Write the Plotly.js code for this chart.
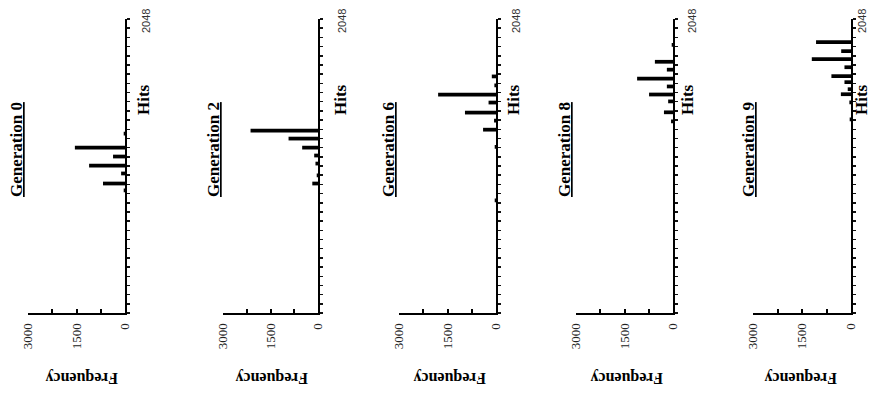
<!DOCTYPE html>
<html>
<head>
<meta charset="utf-8">
<script src="https://cdn.plot.ly/plotly-3.0.1.min.js"></script>
<style>
  html, body { margin: 0; padding: 0; background: #fff; }
  #chart { width: 870px; height: 394px; }
</style>
</head>
<body>
<div id="chart"></div>
<script>
// ---- Data ----
const panelTitles = ['Generation 0', 'Generation 2', 'Generation 6', 'Generation 8', 'Generation 9'];

const hitsGen0 = [854, 902, 972, 1027, 1090, 1152, 1250];
const freqGen0 = [40, 680, 120, 1110, 370, 1550, 40];

const hitsGen2 = [902, 958, 1041, 1097, 1152, 1215, 1270];
const freqGen2 = [180, 40, 80, 120, 500, 930, 2130];

const hitsGen6 = [785, 1157, 1277, 1340, 1396, 1466, 1522, 1585, 1648];
const freqGen6 = [40, 40, 400, 60, 960, 230, 1790, 50, 130];

const hitsGen8 = [1335, 1398, 1474, 1522, 1578, 1633, 1695, 1750, 1868];
const freqGen8 = [60, 280, 150, 740, 190, 1110, 190, 560, 40];

const hitsGen9 = [1349, 1468, 1524, 1559, 1608, 1650, 1712, 1768, 1824, 1887];
const freqGen9 = [40, 50, 310, 100, 200, 600, 200, 1200, 300, 1070];

const freqTickVals = [0, 750, 1500, 2250, 3000];
const freqTickText = ['0', '', '1500', '', '3000'];
const freqMax = 3000;
const hitsMax = 2048;
const hitsStep = 64;
const hitsEndLabel = '2048';
const hitsLabel = 'Hits';
const freqLabel = 'Frequency';

const hitsSeries = [hitsGen0, hitsGen2, hitsGen6, hitsGen8, hitsGen9];
const freqSeries = [freqGen0, freqGen2, freqGen6, freqGen8, freqGen9];

// ---- Layout geometry (pixels in an 870x394 page) ----
const W = 870, H = 394;
const panelPx = [[28, 125], [223, 318], [399, 496], [576, 673], [753, 851]];
const plotTop = 19, plotBottom = 313;
const genX = [17, 214, 389, 565, 749], genY = 150;
const hitsX = [143, 340, 513, 687, 861], hitsY = 100;
const endX = [146, 342, 516, 692, 862], endY = 21;
const freqX = [82, 272, 450, 627, 801], freqY = 378;

const serif = 'Liberation Serif, Times New Roman, serif';
const sans = 'Liberation Sans, Arial, sans-serif';

const hitsTicks = [];
for (let v = 0; v <= hitsMax; v += hitsStep) hitsTicks.push(v);

const traces = [];
const layout = {
  width: W, height: H,
  margin: {l: 0, r: 0, t: 0, b: 0},
  paper_bgcolor: '#ffffff',
  plot_bgcolor: 'rgba(0,0,0,0)',
  showlegend: false,
  annotations: []
};

const px = v => v / W;
const py = v => 1 - v / H;

panelTitles.forEach((title, i) => {
  const n = i + 1;
  const xa = 'xaxis' + (n === 1 ? '' : n);
  const ya = 'yaxis' + (n === 1 ? '' : n);
  const xr = 'x' + (n === 1 ? '' : n);
  const yr = 'y' + (n === 1 ? '' : n);

  traces.push({
    type: 'bar',
    orientation: 'h',
    x: freqSeries[i],
    y: hitsSeries[i],
    width: 26,
    marker: {color: '#000000', line: {width: 0}},
    xaxis: xr, yaxis: yr,
    hoverinfo: 'x+y'
  });

  layout[xa] = {
    domain: [px(panelPx[i][0]), px(panelPx[i][1])],
    anchor: yr,
    range: [freqMax, 0],
    showgrid: false, zeroline: false,
    showline: true, linecolor: '#000', linewidth: 2,
    tickmode: 'array', tickvals: freqTickVals, ticktext: freqTickText,
    ticks: 'inside', ticklen: 4, tickwidth: 2, tickcolor: '#000',
    tickangle: -90,
    ticklabelstandoff: 3,
    tickfont: {family: serif, size: 13, color: '#222'},
    fixedrange: true
  };
  layout[ya] = {
    domain: [py(plotBottom), py(plotTop)],
    anchor: xr,
    side: 'right',
    range: [0, hitsMax],
    showgrid: false, zeroline: false,
    showline: true, linecolor: '#000', linewidth: 2,
    tickmode: 'array', tickvals: hitsTicks,
    ticks: 'outside', ticklen: 3, tickwidth: 1.5, tickcolor: '#111',
    showticklabels: false,
    fixedrange: true
  };

  layout.annotations.push(
    {xref: 'paper', yref: 'paper', x: px(genX[i]), y: py(genY), xanchor: 'center', yanchor: 'middle',
     text: '<b><u>' + title + '</u></b>', textangle: -90, showarrow: false,
     font: {family: serif, size: 17, color: '#000'}},
    {xref: 'paper', yref: 'paper', x: px(hitsX[i]), y: py(hitsY), xanchor: 'center', yanchor: 'middle',
     text: '<b>' + hitsLabel + '</b>', textangle: -90, showarrow: false,
     font: {family: serif, size: 17, color: '#000'}},
    {xref: 'paper', yref: 'paper', x: px(endX[i]), y: py(endY), xanchor: 'center', yanchor: 'middle',
     text: hitsEndLabel, textangle: -90, showarrow: false,
     font: {family: sans, size: 11, color: '#333'}},
    {xref: 'paper', yref: 'paper', x: px(freqX[i]), y: py(freqY), xanchor: 'center', yanchor: 'middle',
     text: '<b>' + freqLabel + '</b>', textangle: 180, showarrow: false,
     font: {family: serif, size: 16, color: '#000'}}
  );
});

Plotly.newPlot('chart', traces, layout, {displayModeBar: false, staticPlot: true});
</script>
</body>
</html>
